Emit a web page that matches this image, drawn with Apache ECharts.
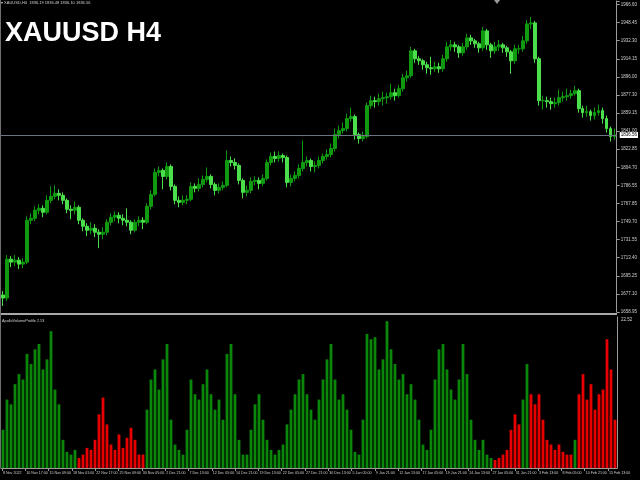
<!DOCTYPE html>
<html>
<head>
<meta charset="utf-8">
<script src="https://cdn.jsdelivr.net/npm/echarts@6/dist/echarts.min.js"></script>
<style>
html, body { margin: 0; padding: 0; background: #000; }
#chart { width: 640px; height: 480px; }
</style>
</head>
<body>
<div id="chart"></div>
<script>
// H4 candles. open of a candle = close of the one before
var firstOpen = 1676;
var closes = [
	1673,1712,1709,1711,1707,1709,1751,1753,1761,1763,
	1759,1771,1775,1778,1776,1771,1762,1761,1764,1751,
	1745,1741,1743,1739,1737,1739,1749,1754,1756,1753,
	1751,1749,1741,1749,1751,1749,1765,1777,1799,1801,
	1795,1805,1785,1771,1769,1771,1772,1785,1783,1787,
	1792,1795,1787,1781,1784,1786,1811,1809,1806,1791,
	1779,1781,1790,1791,1788,1793,1809,1815,1813,1816,
	1814,1789,1793,1796,1803,1809,1811,1805,1806,1811,
	1815,1817,1823,1837,1841,1843,1853,1855,1837,1833,
	1835,1866,1871,1870,1873,1874,1875,1879,1876,1883,
	1894,1896,1921,1913,1911,1907,1904,1903,1905,1903,
	1913,1925,1927,1925,1919,1925,1934,1931,1928,1924,
	1941,1927,1921,1925,1927,1924,1920,1911,1923,1923,
	1931,1948,1949,1913,1871,1871,1870,1868,1869,1874,
	1875,1876,1878,1881,1863,1859,1860,1856,1859,1861,
	1853,1843,1835,1836.56
];
var highs = [
	1680,1716,1715,1716,1714,1713,1755,1758,1765,1767,
	1766,1776,1785,1786,1782,1779,1773,1766,1770,1766,
	1753,1748,1749,1747,1742,1744,1752,1758,1760,1759,
	1757,1763,1751,1752,1755,1754,1768,1781,1803,1805,
	1803,1809,1807,1787,1775,1776,1776,1789,1788,1793,
	1796,1804,1797,1789,1788,1790,1821,1815,1813,1808,
	1793,1786,1794,1795,1794,1797,1812,1819,1820,1820,
	1818,1816,1797,1800,1807,1831,1815,1813,1810,1815,
	1818,1822,1828,1843,1846,1849,1858,1864,1857,1839,
	1840,1869,1876,1875,1878,1880,1879,1888,1883,1887,
	1898,1901,1925,1923,1916,1913,1910,1915,1910,1909,
	1917,1930,1932,1930,1927,1929,1938,1937,1933,1930,
	1945,1943,1929,1930,1932,1929,1926,1922,1927,1927,
	1936,1952,1955,1951,1915,1876,1875,1874,1874,1882,
	1880,1883,1882,1886,1883,1866,1866,1862,1864,1867,
	1864,1856,1845,1843
];
var lows = [
	1665,1670,1704,1705,1702,1703,1707,1747,1750,1757,
	1754,1757,1768,1772,1771,1767,1758,1752,1757,1747,
	1740,1735,1737,1734,1723,1732,1736,1746,1750,1748,
	1746,1745,1737,1739,1745,1742,1747,1762,1775,1795,
	1782,1792,1781,1767,1764,1766,1767,1770,1779,1780,
	1784,1789,1783,1776,1778,1781,1784,1805,1802,1787,
	1773,1775,1778,1786,1782,1785,1791,1806,1809,1810,
	1809,1784,1785,1790,1793,1800,1805,1800,1799,1803,
	1808,1812,1814,1820,1833,1838,1840,1850,1832,1828,
	1830,1833,1863,1864,1866,1866,1868,1872,1871,1874,
	1880,1890,1894,1909,1907,1902,1898,1897,1900,1899,
	1900,1910,1921,1920,1914,1916,1922,1927,1924,1919,
	1921,1922,1914,1918,1921,1919,1915,1898,1908,1918,
	1920,1928,1943,1909,1866,1862,1864,1862,1864,1866,
	1870,1871,1873,1876,1859,1854,1855,1851,1852,1856,
	1848,1839,1830,1832
];
var lastPrice = 1836.56;

// volume histogram of the sub window
var volumes = [
	5.7,10.2,9.5,12.5,14.0,13.2,17.0,15.5,17.7,18.5,
	14.7,16.2,20.4,11.7,9.5,4.2,2.4,2.0,2.7,1.5,
	2.0,3.0,2.7,4.2,8.0,10.5,6.5,3.5,2.7,5.0,
	3.0,4.5,6.0,4.2,2.0,2.0,8.7,13.2,14.7,11.7,
	16.2,18.5,7.2,3.5,2.7,2.0,5.7,13.2,11.0,10.2,
	12.5,14.7,11.0,8.7,10.2,7.2,17.0,18.5,11.0,4.2,
	2.0,2.0,5.7,9.5,11.0,7.2,4.2,2.7,2.0,2.7,
	3.5,6.5,8.7,11.0,13.2,14.0,11.0,8.7,7.2,10.2,
	13.2,16.2,18.5,13.2,10.2,11.0,8.7,5.7,2.4,2.0,
	7.2,20.0,19.2,19.5,14.7,16.2,21.9,17.7,15.5,13.2,
	14.0,11.0,12.5,10.2,7.2,3.5,2.7,5.7,13.2,17.7,
	18.5,14.7,11.7,10.2,13.2,18.5,14.0,7.2,4.2,2.7,
	4.2,2.0,1.5,1.2,1.5,2.0,2.7,5.7,8.0,6.5,
	10.2,15.5,11.0,9.5,11.0,7.2,4.2,3.5,2.7,3.5,
	2.4,2.0,2.0,4.2,11.0,14.0,10.2,12.5,8.7,11.0,
	11.7,19.2,14.7,7.2
];
// index ranges drawn in red, the rest is green
var redRanges = [[19, 35], [123, 129], [132, 142], [144, 153]];

// axis texts
var priceBase = 1658.95;
var priceStep = 18.15;
var priceTicks = [
	"1658.95","1677.10","1695.25","1713.40","1731.55","1749.70",
	"1767.85","1786.55","1804.70","1822.85","1841.00","1859.15",
	"1877.30","1896.00","1914.15","1932.30","1948.45","1966.60"
];
var volumeMax = 22.52;
var dateLabels = [
	"8 Nov 2022","10 Nov 17:00","15 Nov 09:00","18 Nov 01:00","22 Nov 17:00",
	"25 Nov 09:00","30 Nov 05:00","2 Dec 21:00","7 Dec 13:00","12 Dec 05:00",
	"14 Dec 21:00","19 Dec 13:00","22 Dec 05:00","27 Dec 21:00","30 Dec 13:00",
	"5 Jan 05:00","9 Jan 21:00","12 Jan 13:00","17 Jan 05:00","19 Jan 21:00",
	"24 Jan 13:00","27 Jan 05:00","31 Jan 21:00","3 Feb 13:00","8 Feb 05:00",
	"10 Feb 21:00","15 Feb 13:00"
];

var BULL = "#0f9a0f";
var BEAR = "#4be04b";
var VOL_UP = "#0a860a";
var VOL_DOWN = "#e80000";
var AXIS = "#9a9a9a";
var TEXT = "#d0d0d0";
var FONT = "Liberation Sans";

var chart = echarts.init(document.getElementById("chart"), null, { renderer: "canvas" });

var cats = closes.map(function (c, i) { return i; });

var candles = closes.map(function (c, i) {
	var o = i === 0 ? firstOpen : closes[i - 1];
	return [o, c, lows[i], highs[i]];
});

function isRed(i) {
	for (var k = 0; k < redRanges.length; k++) {
		if (i >= redRanges[k][0] && i <= redRanges[k][1]) return true;
	}
	return false;
}

var volData = volumes.map(function (v, i) {
	return { value: v, itemStyle: { color: isRed(i) ? VOL_DOWN : VOL_UP } };
});

var option = {
	backgroundColor: "#000",
	animation: false,
	title: [
		{
			text: "XAUUSD H4", left: 5, top: 20, padding: 0,
			textStyle: { color: "#fff", fontSize: 27, fontWeight: "bold", fontFamily: FONT }
		},
		{
			text: "\u25BE XAUUSD,H4  1836.19 1836.48 1836.10 1836.56", left: 1, top: 1, padding: 0,
			textStyle: { color: TEXT, fontSize: 4, fontWeight: "normal", fontFamily: FONT }
		},
		{
			text: "ApolloVolumeProfile 2.53", left: 2, top: 319, padding: 0,
			textStyle: { color: TEXT, fontSize: 3.8, fontWeight: "normal", fontFamily: FONT }
		}
	],
	graphic: [
		// panel separator, left frame and the chart shift marker
		{ type: "rect", shape: { x: 0, y: 313, width: 617, height: 2 }, style: { fill: "#a8a8a8" } },
		{ type: "rect", shape: { x: 0, y: 0, width: 1, height: 468 }, style: { fill: "#707070" } },
		{ type: "polygon", shape: { points: [[494, 0], [500, 0], [497, 4]] }, style: { fill: "#9a9a9a" } }
	],
	grid: [
		{ left: 1, right: 23, top: 1, height: 311 },
		{ left: 1, right: 23, top: 317, height: 151 },
		{ left: 2, width: 606, top: 467, height: 1 }
	],
	xAxis: [
		{ type: "category", gridIndex: 0, data: cats, show: false },
		{
			type: "category", gridIndex: 1, data: cats,
			axisLine: { show: true, lineStyle: { color: AXIS, width: 1 } },
			axisTick: { show: false }, axisLabel: { show: false }
		},
		{
			type: "category", gridIndex: 2, data: dateLabels, boundaryGap: false,
			axisLine: { show: false },
			axisTick: { show: true, length: 3, interval: 0, lineStyle: { color: AXIS } },
			axisLabel: {
				interval: 0, align: "left", margin: 3, padding: [0, 0, 0, 1],
				color: TEXT, fontSize: 3.6, fontFamily: FONT, hideOverlap: false
			}
		}
	],
	yAxis: [
		{
			type: "value", gridIndex: 0, position: "right",
			min: priceBase, max: 1971, interval: priceStep,
			splitLine: { show: false },
			axisLine: { show: true, lineStyle: { color: AXIS } },
			axisTick: { show: true, length: 3, lineStyle: { color: AXIS } },
			axisLabel: {
				color: TEXT, fontSize: 4.5, fontFamily: FONT, margin: 4,
				formatter: function (v) {
					var k = Math.round((v - priceBase) / priceStep);
					if (Math.abs(v - (priceBase + k * priceStep)) > 0.01) return "";
					return priceTicks[k] || "";
				}
			}
		},
		{
			type: "value", gridIndex: 1, position: "right",
			min: 0, max: volumeMax, interval: volumeMax,
			splitLine: { show: false },
			axisLine: { show: true, lineStyle: { color: AXIS } },
			axisTick: { show: false },
			axisLabel: {
				color: TEXT, fontSize: 4.5, fontFamily: FONT, margin: 4,
				verticalAlign: "top",
				formatter: function (v) { return v > 0 ? volumeMax.toFixed(2) : ""; }
			}
		},
		{ type: "value", gridIndex: 2, show: false }
	],
	series: [
		{
			type: "candlestick",
			xAxisIndex: 0, yAxisIndex: 0,
			data: candles,
			barWidth: 3,
			itemStyle: {
				color: BULL, color0: BEAR,
				borderColor: BULL, borderColor0: BEAR,
				borderWidth: 1
			},
			markLine: {
				silent: true,
				symbol: "none",
				lineStyle: { color: "#6b7480", type: "solid", width: 1 },
				label: {
					position: "end", distance: 3,
					formatter: lastPrice.toFixed(2),
					color: "#000", backgroundColor: "#fff",
					fontSize: 4.5, fontFamily: FONT, padding: [1, 1, 0, 1]
				},
				data: [{ yAxis: lastPrice }]
			}
		},
		{
			type: "bar",
			xAxisIndex: 1, yAxisIndex: 1,
			data: volData,
			barWidth: "70%"
		}
	]
};

chart.setOption(option);
</script>
</body>
</html>
